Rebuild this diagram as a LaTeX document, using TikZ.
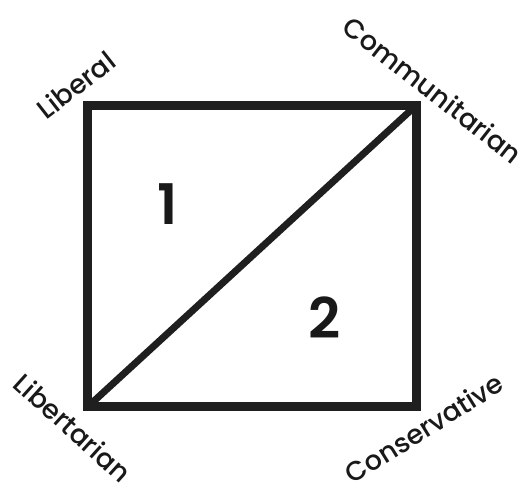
\documentclass[tikz,border=0pt]{standalone}
\usepackage{fontspec}
\setmainfont{Poppins Medium}
\newfontfamily\numfont{Poppins SemiBold}
\begin{document}
\begin{tikzpicture}[x=1pt,y=-1pt,
  edge/.style={line width=9pt,draw=black!88},
  diag/.style={line width=7pt,draw=black!88},
  corner/.style={font=\fontsize{27}{27}\selectfont,inner sep=0pt,text=black!90},
  num/.style={font=\numfont\fontsize{56}{56}\selectfont,inner sep=0pt,text=black!90}]
\useasboundingbox (0,0) rectangle (531,494);
\coordinate (tl) at (87.5,105.5);
\coordinate (tr) at (416,105.5);
\coordinate (br) at (416,407);
\coordinate (bl) at (87.5,407);
\draw[edge,line join=miter] (tl) -- (tr) -- (br) -- (bl) -- cycle;
\draw[diag] (bl) -- (tr);
\node[num] (n1) at (168,204) {1};
\node[num] (n2) at (325,318) {2};
\node[corner,rotate=38] (lib) at (76,85) {Liberal};
\node[corner,rotate=-38] (com) at (433,90) {Communitarian};
\node[corner,rotate=-42] (lbt) at (73,428) {Libertarian};
\node[corner,rotate=32] (con) at (424,428) {Conservative};
\end{tikzpicture}
\end{document}
